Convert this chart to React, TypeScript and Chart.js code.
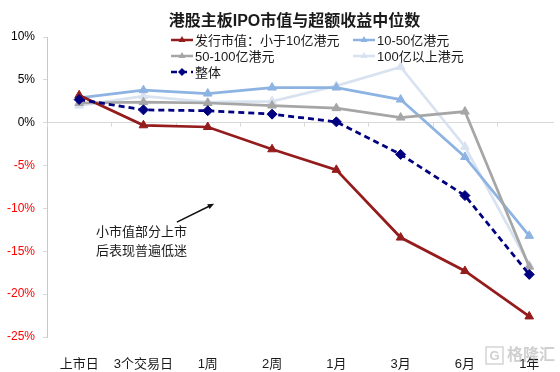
import React, { useEffect, useRef } from 'react';
import { Chart, registerables } from 'chart.js';

Chart.register(...registerables);

// ---------- data ----------
const TITLE = '港股主板IPO市值与超额收益中位数';
const categories = ['上市日', '3个交易日', '1周', '2周', '1月', '3月', '6月', '1年'];
const seriesNames = ['发行市值：小于10亿港元', '10-50亿港元', '50-100亿港元', '100亿以上港元', '整体'];
const smallCap = [3.2, -0.3, -0.5, -3.1, -5.5, -13.4, -17.3, -22.6];
const cap10to50 = [2.9, 3.8, 3.4, 4.1, 4.1, 2.7, -4.0, -13.2];
const cap50to100 = [2.3, 2.4, 2.3, 2.0, 1.7, 0.6, 1.3, -16.8];
const cap100plus = [2.0, 3.1, 2.4, 2.5, 4.3, 6.5, -2.8, -16.6];
const overall = [2.7, 1.5, 1.4, 1.0, 0.1, -3.7, -8.5, -17.7];
const yMin = -25;
const yMax = 10;
const yStep = 5;
const noteLines = ['小市值部分上市', '后表现普遍低迷'];
const WATERMARK = '格隆汇';

// annotation anchors in data units (x = category index, y = %)
const noteAnchor = { x: 0.97, y: -12.85 };
const arrowFrom = { x: 1.52, y: -11.6 };
const arrowTo = { x: 2.1, y: -9.45 };

const FONT = '"Liberation Sans", Arial, "Noto Sans CJK SC", sans-serif';

const colors = ['#941C1C', '#8DB3E2', '#A6A6A6', '#D9E2F0', '#000080'];
const styles = ['triangle', 'triangle', 'triangle', 'triangle', 'rectRot'];
const seriesData = [smallCap, cap10to50, cap50to100, cap100plus, overall];
const drawOrder = [1, 3, 2, 4, 0];

function drawMarker(ctx: CanvasRenderingContext2D, style: string, x: number, y: number, r: number) {
  ctx.beginPath();
  if (style === 'rectRot') {
    ctx.moveTo(x, y - r);
    ctx.lineTo(x + r, y);
    ctx.lineTo(x, y + r);
    ctx.lineTo(x - r, y);
  } else {
    for (let k = 0; k < 3; k++) {
      const a = (k * 2 * Math.PI) / 3;
      const px = x + Math.sin(a) * r;
      const py = y - Math.cos(a) * r;
      if (k === 0) ctx.moveTo(px, py);
      else ctx.lineTo(px, py);
    }
  }
  ctx.closePath();
  ctx.fill();
}

const decorPlugin = {
  id: 'decor',
  beforeDatasetsDraw(chart: any) {
    const { ctx, chartArea, scales } = chart;
    const xs = scales.x;
    const ys = scales.y;
    const y0 = ys.getPixelForValue(0);
    ctx.save();
    ctx.strokeStyle = '#D9D9D9';
    ctx.lineWidth = 1;
    for (let i = 0; i <= categories.length; i++) {
      const px = Math.round(xs.getPixelForValue(i - 0.5)) + 0.5;
      if (px < chartArea.left || px > chartArea.right) continue;
      ctx.beginPath();
      ctx.moveTo(px, y0);
      ctx.lineTo(px, y0 + 4);
      ctx.stroke();
    }
    ctx.restore();
  },
  afterDraw(chart: any) {
    const { ctx, scales } = chart;
    const xs = scales.x;
    const ys = scales.y;
    ctx.save();
    // title
    ctx.fillStyle = '#1a1a1a';
    ctx.font = `bold 16px ${FONT}`;
    ctx.textAlign = 'center';
    ctx.textBaseline = 'middle';
    ctx.fillText(TITLE, 294.5, 22);

    // legend
    const slots = [
      [171, 40],
      [353, 40],
      [171, 56],
      [353, 56],
      [171, 72],
    ];
    ctx.font = `13px ${FONT}`;
    ctx.textAlign = 'left';
    chart.data.datasets.forEach((ds: any, i: number) => {
      const [lx, ly] = slots[i];
      ctx.strokeStyle = ds.borderColor;
      ctx.fillStyle = ds.borderColor;
      ctx.lineWidth = 2.5;
      ctx.setLineDash(ds.borderDash || []);
      ctx.beginPath();
      ctx.moveTo(lx, ly);
      ctx.lineTo(lx + 22, ly);
      ctx.stroke();
      ctx.setLineDash([]);
      drawMarker(ctx, ds.pointStyle, lx + 11, ly, 4);
      ctx.fillStyle = '#1a1a1a';
      ctx.fillText(ds.label, lx + 24, ly + 1);
    });

    // annotation text
    ctx.font = `13px ${FONT}`;
    ctx.textAlign = 'center';
    ctx.fillStyle = '#1a1a1a';
    const nx = xs.getPixelForValue(noteAnchor.x);
    const ny = ys.getPixelForValue(noteAnchor.y);
    noteLines.forEach((t, i) => ctx.fillText(t, nx, ny + i * 19));

    // arrow
    const ax0 = xs.getPixelForValue(arrowFrom.x);
    const ay0 = ys.getPixelForValue(arrowFrom.y);
    const ax1 = xs.getPixelForValue(arrowTo.x);
    const ay1 = ys.getPixelForValue(arrowTo.y);
    const ang = Math.atan2(ay1 - ay0, ax1 - ax0);
    ctx.strokeStyle = '#111';
    ctx.fillStyle = '#111';
    ctx.lineWidth = 1.5;
    ctx.beginPath();
    ctx.moveTo(ax0, ay0);
    ctx.lineTo(ax1 - Math.cos(ang) * 4, ay1 - Math.sin(ang) * 4);
    ctx.stroke();
    ctx.beginPath();
    ctx.moveTo(ax1, ay1);
    ctx.lineTo(ax1 - Math.cos(ang - 0.4) * 7, ay1 - Math.sin(ang - 0.4) * 7);
    ctx.lineTo(ax1 - Math.cos(ang + 0.4) * 7, ay1 - Math.sin(ang + 0.4) * 7);
    ctx.closePath();
    ctx.fill();

    // watermark
    ctx.globalAlpha = 0.55;
    ctx.strokeStyle = '#B0B0B0';
    ctx.lineWidth = 1.5;
    ctx.beginPath();
    ctx.rect(486, 347, 17, 17);
    ctx.stroke();
    ctx.fillStyle = '#A8A8A8';
    ctx.font = `bold 13px ${FONT}`;
    ctx.textAlign = 'center';
    ctx.fillText('G', 494.5, 356);
    ctx.font = `bold 16px ${FONT}`;
    ctx.textAlign = 'left';
    ctx.fillText(WATERMARK, 507, 356);
    ctx.restore();
  },
};

export default function App() {
  const ref = useRef<HTMLCanvasElement | null>(null);

  useEffect(() => {
    if (!ref.current) return;
    const datasets = seriesNames.map((name, i) => ({
      label: name,
      data: seriesData[i].map((v, k) => ({ x: k, y: v })),
      borderColor: colors[i],
      backgroundColor: colors[i],
      pointBackgroundColor: colors[i],
      pointBorderColor: colors[i],
      pointStyle: styles[i],
      pointRadius: 5,
      pointBorderWidth: 1,
      borderWidth: 2.75,
      borderDash: i === 4 ? [6, 4] : [],
      tension: 0,
      order: drawOrder[i],
    }));

    const chart = new Chart(ref.current, {
      type: 'line',
      data: { datasets } as any,
      options: {
        animation: false,
        responsive: false,
        events: [],
        layout: { padding: { top: 37, right: 2, left: 0, bottom: 0 } },
        plugins: {
          legend: { display: false },
          title: { display: false },
          tooltip: { enabled: false },
        },
        scales: {
          x: {
            type: 'linear',
            min: -0.5,
            max: 7.385,
            grid: { display: false },
            border: { display: false },
            afterBuildTicks: (scale: any) => {
              scale.ticks = categories.map((_, i) => ({ value: i }));
            },
            afterFit: (scale: any) => {
              scale.height = 35;
            },
            ticks: {
              autoSkip: false,
              maxRotation: 0,
              padding: 12,
              color: '#1a1a1a',
              font: { family: FONT, size: 13 },
              callback: (v: any) => categories[v] ?? '',
            },
          },
          y: {
            type: 'linear',
            min: yMin,
            max: yMax,
            afterFit: (scale: any) => {
              scale.width = 47;
            },
            grid: {
              drawOnChartArea: true,
              color: (c: any) => (c.tick && c.tick.value === 0 ? '#D9D9D9' : 'rgba(0,0,0,0)'),
              tickColor: '#D9D9D9',
              tickLength: 4,
              lineWidth: 1,
            },
            border: { display: true, color: '#C8C8C8', width: 1 },
            ticks: {
              stepSize: yStep,
              padding: 8,
              font: { family: FONT, size: 12 },
              color: (c: any) => (c.tick && c.tick.value < 0 ? '#FF0000' : '#000000'),
              callback: (v: any) => `${v}%`,
            },
          },
        },
      },
      plugins: [decorPlugin],
    } as any);

    return () => chart.destroy();
  }, []);

  return (
    <div style={{ position: 'fixed', left: 0, top: 0, width: 560, height: 372, background: '#fff' }}>
      <canvas ref={ref} width={560} height={372} style={{ display: 'block' }} />
    </div>
  );
}
